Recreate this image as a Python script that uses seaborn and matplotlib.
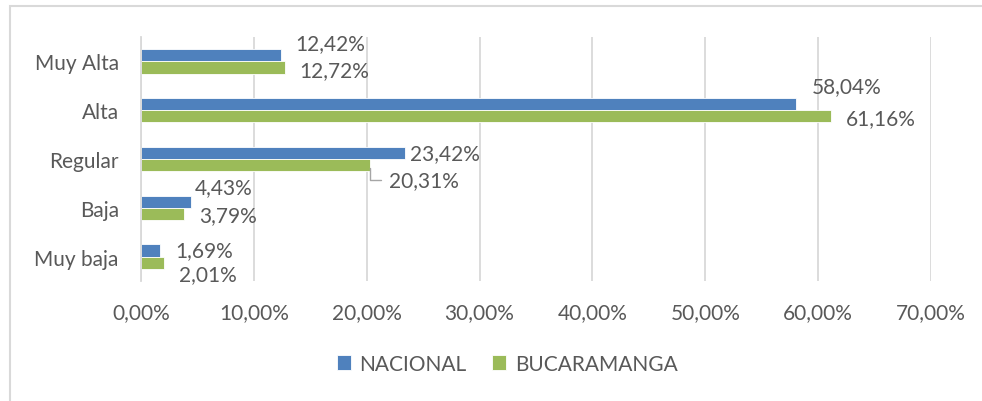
import pandas as pd
import matplotlib.pyplot as plt
import seaborn as sns
from matplotlib.patches import Rectangle
from matplotlib.ticker import FuncFormatter

# data
categorias = ['Muy Alta', 'Alta', 'Regular', 'Baja', 'Muy baja']
nacional = [12.42, 58.04, 23.42, 4.43, 1.69]
bucaramanga = [12.72, 61.16, 20.31, 3.79, 2.01]
series = ['NACIONAL', 'BUCARAMANGA']
xticks = [0, 10, 20, 30, 40, 50, 60, 70]

df = pd.DataFrame({
    'Categoria': categorias * 2,
    'Serie': [series[0]] * len(categorias) + [series[1]] * len(categorias),
    'Valor': nacional + bucaramanga,
})

sns.set_style('white')
plt.rcParams['font.family'] = ['Lato', 'DejaVu Sans']
gris = '#595959'
colores = {'NACIONAL': '#4F81BD', 'BUCARAMANGA': '#9BBB59'}
fs = 15

fig = plt.figure(figsize=(9.82, 4.02), dpi=100)
ax = fig.add_axes([141 / 982, 1 - 282 / 402, 790 / 982, 244 / 402])

sns.barplot(data=df, y='Categoria', x='Valor', hue='Serie', order=categorias,
            hue_order=series, palette=colores, saturation=1, orient='h',
            width=0.5, edgecolor='white', linewidth=0.6, ax=ax)

ax.set_xlim(0, 70)
ax.set_xticks(xticks)
ax.xaxis.set_major_formatter(FuncFormatter(lambda v, p: f'{v:.2f}%'.replace('.', ',')))
ax.grid(axis='x', color='#D9D9D9', linewidth=1.3)
ax.set_axisbelow(True)
for s in ['top', 'right', 'bottom']:
    ax.spines[s].set_visible(False)
ax.spines['left'].set_color('#D9D9D9')
ax.spines['left'].set_linewidth(1.3)
ax.tick_params(axis='both', length=0, labelsize=fs, labelcolor=gris)
ax.tick_params(axis='y', pad=16)
ax.tick_params(axis='x', pad=15)
ax.set_xlabel('')
ax.set_ylabel('')

# label offsets in pixels (dx, dy) from the bar end
offsets = [
    [(14, 12), (16, 18), (5, 0), (4, 15), (15, 0)],
    [(15, -3), (15, -2), (19, -15), (15, -1), (15, -11)],
]
for i, cont in enumerate(ax.containers):
    for j, bar in enumerate(cont):
        val = bar.get_width()
        yc = bar.get_y() + bar.get_height() / 2
        dx, dy = offsets[i][j]
        ax.annotate(f'{val:.2f}%'.replace('.', ','), xy=(val, yc),
                    xytext=(dx, dy), textcoords='offset pixels',
                    ha='left', va='center', fontsize=fs, color=gris,
                    annotation_clip=False)
        if i == 1 and j == 2:
            # leader line for the Regular label
            ax.annotate('', xy=(val, yc), xytext=(dx - 5, dy),
                        textcoords='offset pixels',
                        arrowprops=dict(arrowstyle='-', color='#A6A6A6', lw=1,
                                        connectionstyle='angle,angleA=0,angleB=90'))

ax.legend(loc='center', bbox_to_anchor=(507 / 982, 1 - 365 / 402),
          bbox_transform=fig.transFigure, ncol=2, frameon=False, fontsize=fs,
          labelcolor=gris, handlelength=0.7, handleheight=0.7,
          handletextpad=0.4, columnspacing=1.2)

fig.patches.append(Rectangle((10 / 982, -0.01), 1.0, 1 - 7 / 402 + 0.01,
                             transform=fig.transFigure, fill=False,
                             edgecolor='#D9D9D9', linewidth=1.5))

plt.savefig('out.png', dpi=100)
